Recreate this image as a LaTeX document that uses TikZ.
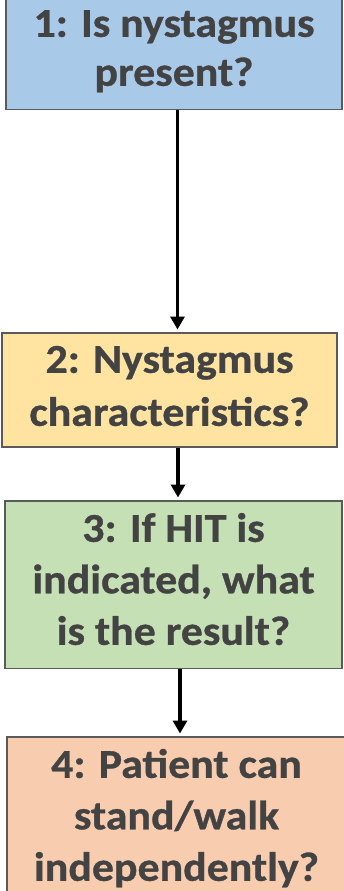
\documentclass[tikz,border=0pt]{standalone}
\usepackage{fontspec}
\setmainfont{Carlito}[FakeStretch=1.07, BoldFeatures={FakeBold=0.8}]
\usepackage{tikz}
\usetikzlibrary{arrows.meta,positioning,calc}
\definecolor{qblue}{HTML}{A9C9E9}
\definecolor{qyellow}{HTML}{FFE3A1}
\definecolor{qgreen}{HTML}{C6E0B5}
\definecolor{qpeach}{HTML}{F8CCAE}
\definecolor{qedge}{HTML}{5A5A5A}
\definecolor{qtext}{HTML}{434343}
\tikzset{
  qbox/.style={draw=qedge, line width=1.6pt, rectangle, align=center, anchor=north,
    inner sep=0pt, minimum height=0pt, text=qtext},
  qfont/.style={font=\fontsize{41}{#1}\selectfont\bfseries},
  qarrow/.style={-{Triangle[width=14pt,length=13pt]}, line width=3.5pt, black, shorten >=2.5pt}
}

\begin{document}
\begin{tikzpicture}[x=1pt,y=1pt]
  \useasboundingbox (0,0) rectangle (343,-891);
  % question boxes (anchor north = top border)
  \node[qbox, qfont=49, fill=qblue, minimum width=336pt, text height=87pt, text depth=23.5pt] (q1) at (174,2) {1: Is nystagmus\\present?};
  \node[qbox, qfont=53, fill=qyellow, minimum width=335pt, text height=93pt, text depth=21pt] (q2) at (169.5,-332) {2: Nystagmus\\characteristics?};
  \node[qbox, qfont=51.5, fill=qgreen, minimum width=337pt, text height=144pt, text depth=23.5pt] (q3) at (173.5,-500) {3: If HIT is\\indicated, what\\is the result?};
  \node[qbox, qfont=51.5, fill=qpeach, minimum width=339pt, text height=144pt, text depth=25pt] (q4) at (176.5,-736) {4: Patient can\\stand/walk\\independently?};
  % connectors
  \draw[qarrow] ([xshift=3.5pt]q1.south) -- ([xshift=3.5pt]q1.south |- q2.north);
  \draw[qarrow] ([xshift=8.5pt]q2.south) -- ([xshift=8.5pt]q2.south |- q3.north);
  \draw[qarrow] ([xshift=6.5pt]q3.south) -- ([xshift=6.5pt]q3.south |- q4.north);
\end{tikzpicture}
\end{document}
